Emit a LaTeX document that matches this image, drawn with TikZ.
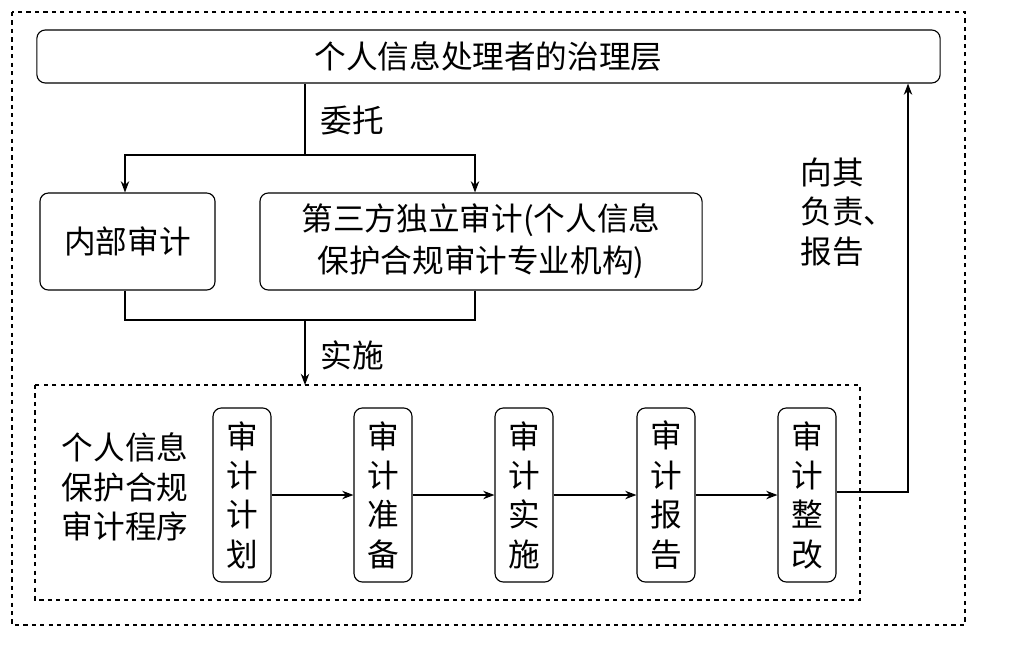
\documentclass[tikz,border=0pt]{standalone}
\usepackage{fontspec}
\setmainfont{Noto Sans CJK SC}
\usetikzlibrary{calc}
\usetikzlibrary{positioning}
\usetikzlibrary{arrows.meta}
\tikzset{baseline=(current bounding box.center)}
\tikzstyle{box} = [draw, rounded corners=6pt, thick, align=center, inner sep=0pt]
\tikzstyle{stagebox} = [draw, rounded corners=6pt, thick, align=center, minimum width=1.45cm, minimum height=4.35cm, inner sep=0pt]
\tikzstyle{frame} = [draw, dashed, thick]
\tikzstyle{lbl} = [align=left]
\begin{document}
\begin{tikzpicture}[x=0.025cm, y=-0.025cm, font=\fontsize{22.5}{28}\selectfont, >={Stealth[length=8pt,width=6pt]}]
\useasboundingbox (0,0) rectangle (1012,645);
\draw[frame] (12,12) rectangle (965,625);
\draw[frame] (35,385) rectangle (860,600);
\node[box, minimum width=22.575cm, minimum height=1.325cm] (top) at (488.5,56.5) {个人信息处理者的治理层};
\node[box, minimum width=4.375cm, minimum height=2.425cm] (inner) at (127.5,241.5) {内部审计};
\node[box, minimum width=11.05cm, minimum height=2.425cm, font=\fontsize{22.5}{30}\selectfont] (third) at (481,241.5) {第三方独立审计(个人信息\\保护合规审计专业机构)};
\coordinate (split) at (305,155);
\draw[thick] (top.south -| split) -- (split);
\draw[thick,->] (split) -| (inner.north -| 125,0);
\draw[thick,->] (split) -| (third.north -| 475,0);
\node[lbl] (entrust) at (352,120) {委托};
\coordinate (join) at (305,320);
\draw[thick] (inner.south -| 125,0) |- (join);
\draw[thick] (third.south -| 475,0) |- (join);
\draw[thick,->] (join) -- (305,385);
\node[lbl] (impl) at (352,355) {实施};
\node[lbl] (proc) at (125,487) {个人信息\\保护合规\\审计程序};
\node[stagebox] (s1) at (242,495) {审\\计\\计\\划};
\node[stagebox] (s2) at (383,495) {审\\计\\准\\备};
\node[stagebox] (s3) at (524,495) {审\\计\\实\\施};
\node[stagebox] (s4) at (666,495) {审\\计\\报\\告};
\node[stagebox] (s5) at (807,495) {审\\计\\整\\改};
\foreach \a/\b in {s1/s2,s2/s3,s3/s4,s4/s5}
  \draw[thick,->] (\a) -- (\b);
\coordinate (corner) at (908,492);
\draw[thick,->] (s5.east |- corner) -- (corner) -- (top.south -| corner);
\node[lbl] (report) at (848,212) {向其\\负责、\\报告};
\end{tikzpicture}
\end{document}
